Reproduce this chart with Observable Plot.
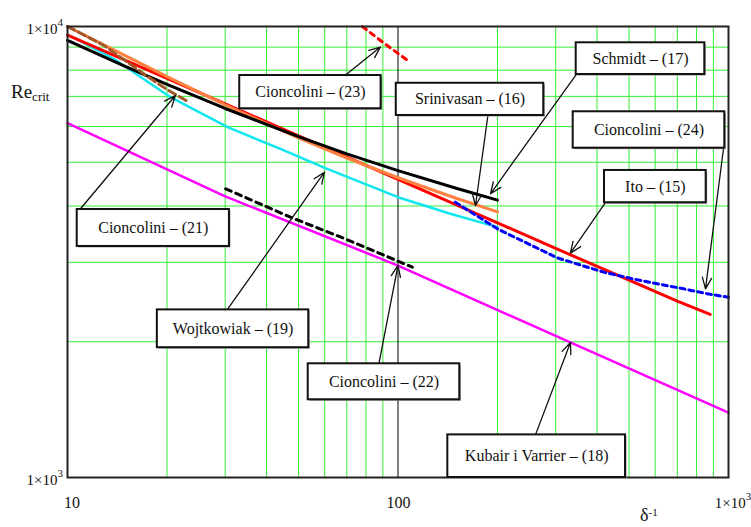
<!DOCTYPE html>
<html><head><meta charset="utf-8">
<script src="https://cdn.jsdelivr.net/npm/d3@7"></script>
<script src="https://cdn.jsdelivr.net/npm/@observablehq/plot@0.6"></script>
<style>body{margin:0;background:#fff}</style>
</head><body><div id="chart"></div>
<script>
// ---- data (x = δ^-1, y = Re_crit) ----
const ito          = [[10,9570],[20,7670],[30,6740],[50,5720],[100,4580],[200,3670],[300,3220],[500,2740],[700,2460],[880,2300]];
const srinivasan   = [[10,10000],[15,8610],[20,7740],[30,6700],[50,5660],[70,5110],[100,4620],[150,4160],[200,3880]];
const schmidt      = [[10,9320],[15,8150],[20,7440],[30,6580],[50,5700],[70,5220],[100,4790],[150,4380],[200,4120]];
const wojtkowiak   = [[10,9600],[13.8,8480],[20.5,6970],[30.5,5980],[45,5320],[60,4860],[100,4183],[144,3843],[200,3590]];
const kubair       = [[10,6105],[30,4200],[100,2951],[300,2060],[1000,1392]];
const cioncolini21 = [[10,10000],[12.9,9075],[17,7857],[20,7250],[23.3,6795]];
const cioncolini22 = [[30.1,4366],[47.3,3777],[70,3370],[110.5,2926]];
const cioncolini23 = [[78,10000],[90.7,9184],[108,8363]];
const cioncolini24 = [[149,4078],[200,3559],[303,3070],[419,2853],[529,2744],[732,2620],[862,2555],[1000,2510]];

const xMinorTicks = [20,30,40,50,60,70,80,90,200,300,400,500,600,700,800,900];
const yMinorTicks = [2000,3000,4000,5000,6000,7000,8000,9000];
const xDecadeTicks = [100];
const xTickLabels = [[10,"10",""],[100,"100",""],[1000,"1×10","3"]];
const yTickLabels = [[1000,"1×10","3"],[10000,"1×10","4"]];

const annotations = [
  {label:"Cioncolini – (23)", box:[33.2,88.9,7786,6571], from:[68.5,7745], to:[88.5,9005]},
  {label:"Srinivasan – (16)", box:[98.8,276.1,7484,6349], from:[186.9,6316], to:[171.6,4010]},
  {label:"Schmidt – (17)", box:[346.1,847.8,9202,7826], from:[346.1,7826], to:[190.5,4256]},
  {label:"Cioncolini – (24)", box:[338.9,974.5,6470,5373], from:[965.8,5364], to:[852,2620]},
  {label:"Ito – (15)", box:[421.5,856,4795,4066], from:[423.6,4066], to:[332.5,3143]},
  {label:"Cioncolini – (21)", box:[10.7,30.9,3929,3253], from:[10.9,3929], to:[21.2,7031]},
  {label:"Wojtkowiak – (19)", box:[18.7,53.7,2353,1940], from:[30.4,2353], to:[59.9,4752]},
  {label:"Cioncolini – (22)", box:[53.5,153.8,1787,1487], from:[87.5,1787], to:[100,2952]},
  {label:"Kubair i Varrier – (18)", box:[141.5,488,1243,1000], from:[260.6,1243], to:[332.5,1992]}
];

const serif = "'Liberation Serif', 'Times New Roman', serif";
const L = (data, stroke, w, dash) => Plot.line(data, {x: d => d[0], y: d => d[1], stroke, strokeWidth: w, strokeDasharray: dash});
const boxOpts = {x1: d => d.box[0], x2: d => d.box[1], y1: d => d.box[2], y2: d => d.box[3]};

const plot = Plot.plot({
  width: 751, height: 527,
  marginLeft: 67, marginRight: 23, marginTop: 26, marginBottom: 50,
  x: {type: "log", domain: [10, 1000], axis: null},
  y: {type: "log", domain: [1000, 10000], axis: null},
  style: {fontFamily: serif, background: "white", overflow: "visible"},
  marks: [
    Plot.ruleX(xMinorTicks, {stroke: "#33ee33", strokeWidth: 1}),
    Plot.ruleY(yMinorTicks, {stroke: "#33ee33", strokeWidth: 1}),
    Plot.ruleX(xDecadeTicks, {stroke: "#000", strokeWidth: 1}),
    L(kubair, "#ff00ff", 2.5),
    L(wojtkowiak, "#10e6f0", 2.5),
    L(ito, "#ff0000", 3),
    L(srinivasan, "#ff8040", 3),
    L(schmidt, "#000000", 3),
    L(cioncolini21, "#a0582a", 3, "8,4"),
    L(cioncolini22, "#000000", 3, "6,5"),
    L(cioncolini23, "#ff0000", 3, "5,5"),
    L(cioncolini24, "#0000ff", 3, "5,4"),
    Plot.frame({stroke: "#222", strokeWidth: 2}),
    Plot.arrow(annotations, {x1: d => d.from[0], y1: d => d.from[1], x2: d => d.to[0], y2: d => d.to[1],
      stroke: "#111", strokeWidth: 1.3, headLength: 14, headAngle: 45}),
    Plot.rect(annotations, {...boxOpts, fill: "#999", dx: 1.5, dy: 1.5}),
    Plot.rect(annotations, {...boxOpts, fill: "white", stroke: "#111", strokeWidth: 2}),
    Plot.text(annotations, {x: d => Math.sqrt(d.box[0]*d.box[1]), y: d => Math.sqrt(d.box[2]*d.box[3]),
      text: d => d.label, fontSize: 16, fill: "#111"})
  ]
});

document.getElementById("chart").append(plot);

const xs = plot.scale("x"), ys = plot.scale("y");
const svg = d3.select(plot);
const g = svg.append("g").attr("font-family", serif).attr("fill", "#111");

// x tick labels
const xdx = [5, 1, 5];
xTickLabels.forEach(([v, base, sup], i) => {
  const t = g.append("text")
    .attr("x", xs.apply(v) + xdx[i]).attr("y", ys.apply(1000) + 31)
    .attr("text-anchor", "middle").attr("font-size", sup ? 15 : 16).text(base);
  if (sup) t.append("tspan").attr("dy", -8).attr("font-size", 11).text(sup);
});
// y tick labels
yTickLabels.forEach(([v, base, sup]) => {
  const t = g.append("text")
    .attr("x", xs.apply(10) - 4).attr("y", ys.apply(v) + 7.5)
    .attr("text-anchor", "end").attr("font-size", 15).text(base);
  t.append("tspan").attr("dy", -8).attr("font-size", 11).text(sup);
});
// axis titles
const yt = g.append("text").attr("x", 11).attr("y", 97.5).attr("text-anchor", "start").attr("font-size", 19).text("Re");
yt.append("tspan").attr("dy", 3).attr("font-size", 13).text("crit");
const xt = g.append("text").attr("x", 640).attr("y", 521).attr("text-anchor", "start").attr("font-size", 18).text("δ");
xt.append("tspan").attr("dy", -5).attr("font-size", 11).text("-1");
</script>
</body></html>
